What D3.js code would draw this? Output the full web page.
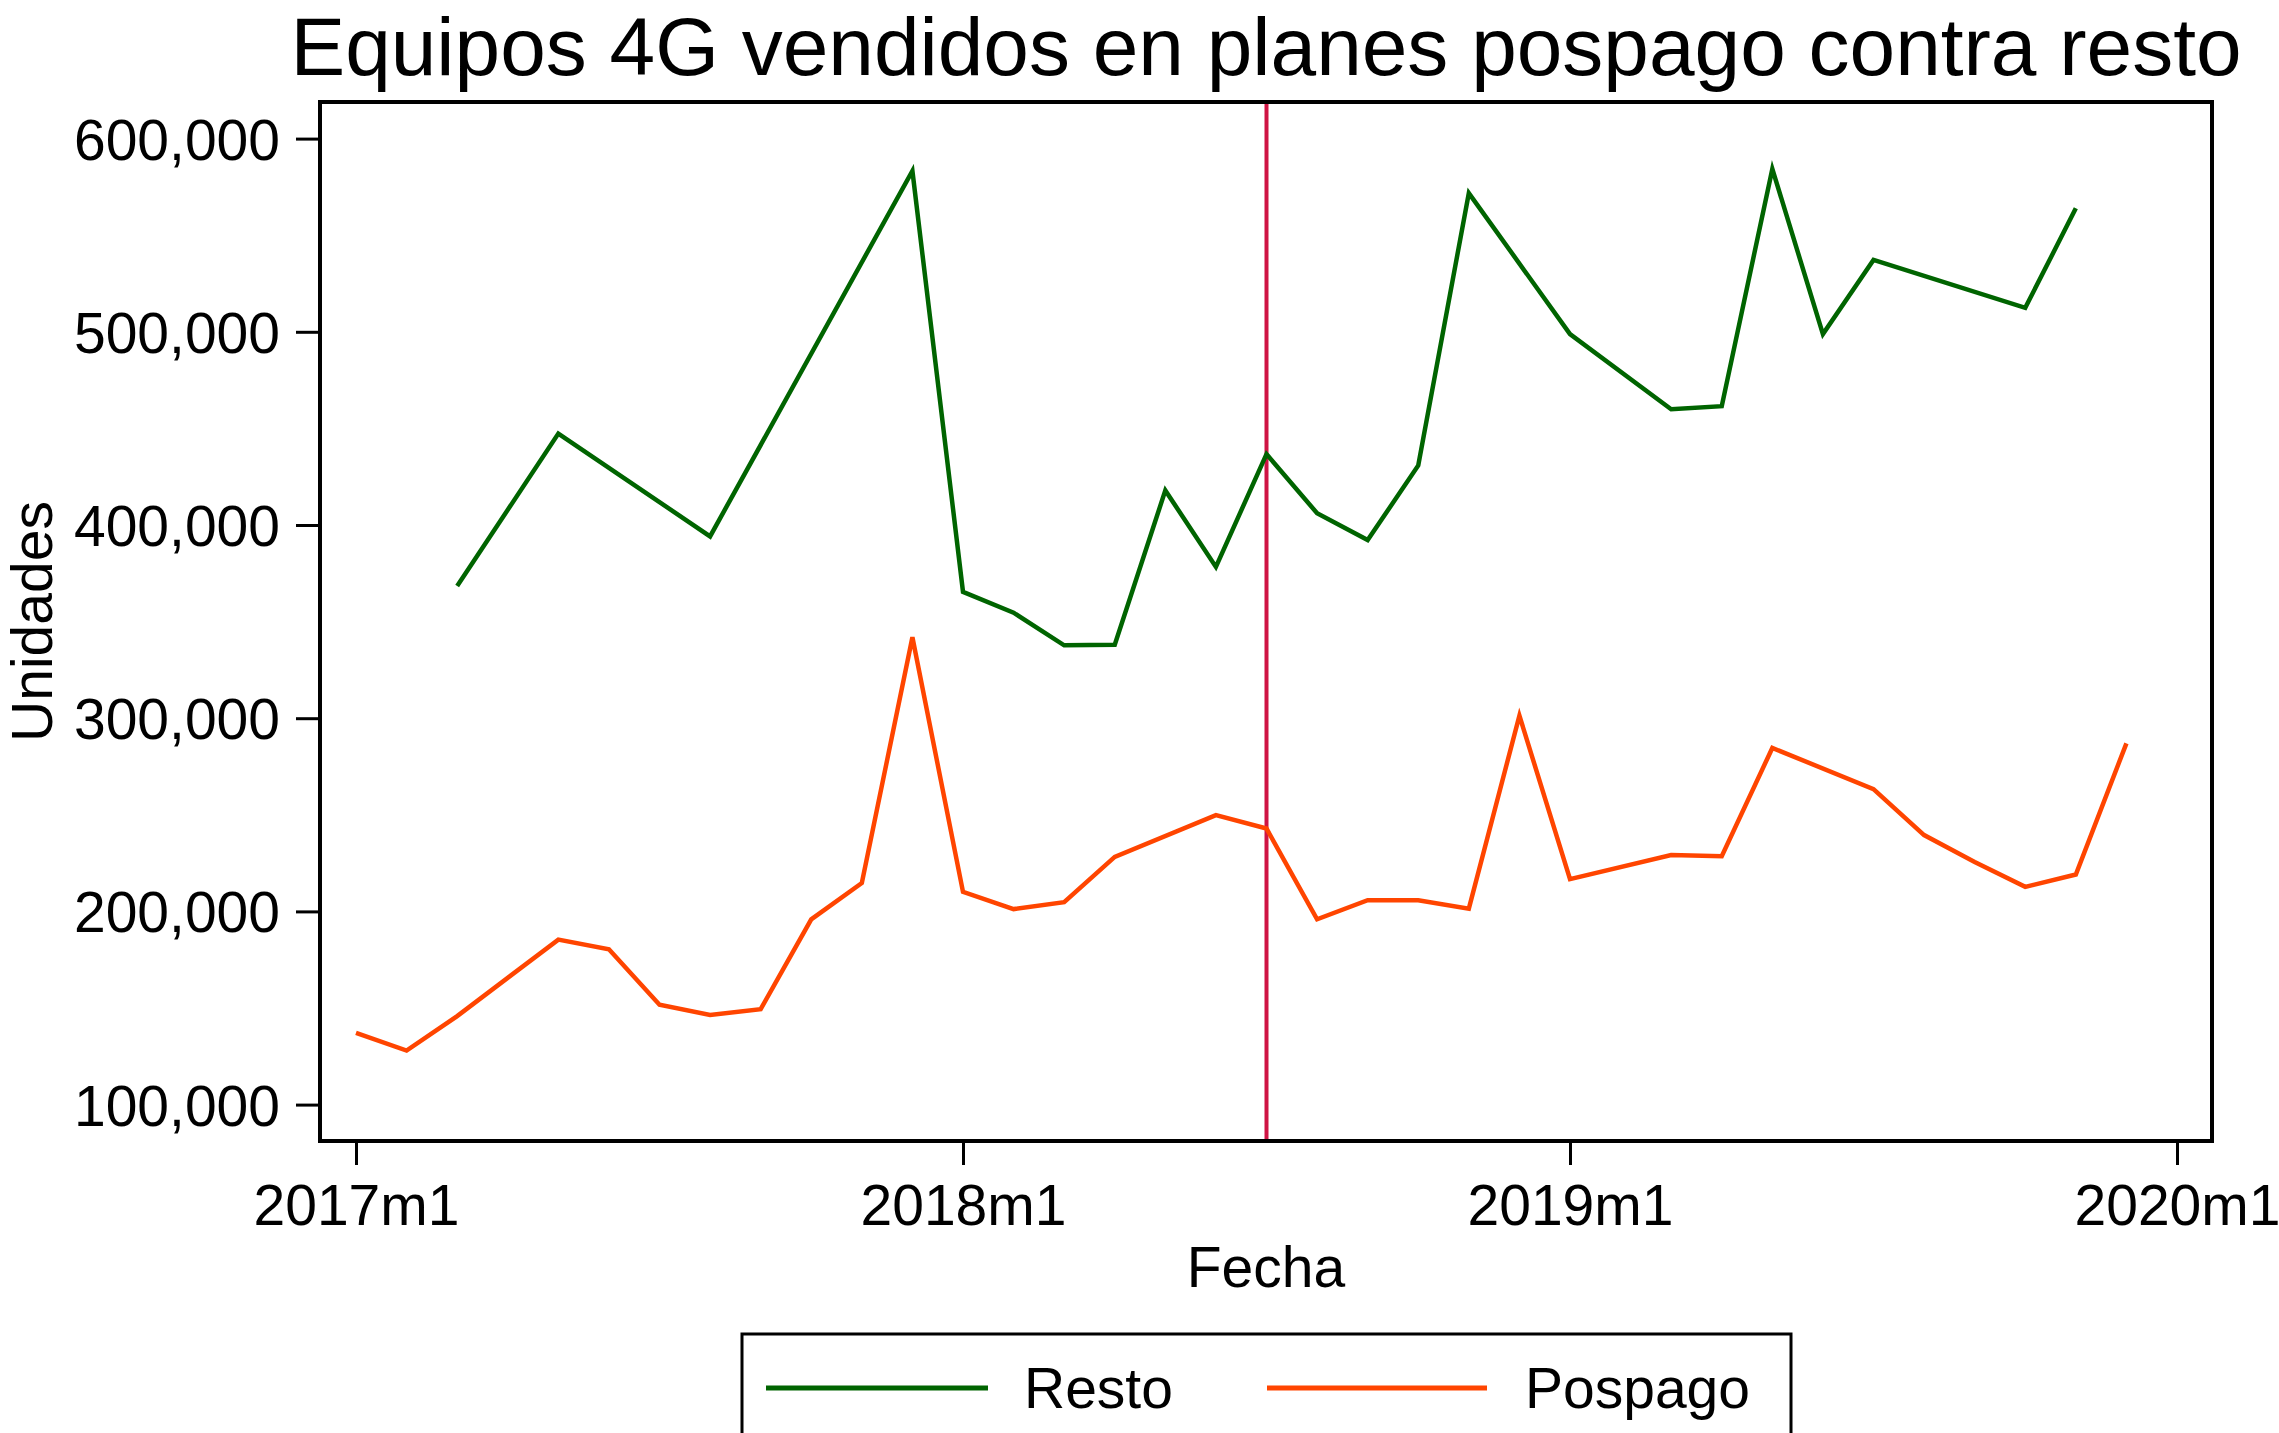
<!DOCTYPE html>
<html>
<head>
<meta charset="utf-8">
<script src="https://cdn.jsdelivr.net/npm/d3@7"></script>
<style>
  body { margin: 0; background: #fff; }
  text { font-family: "Liberation Sans", Arial, sans-serif; fill: #000; }
</style>
</head>
<body>
<svg id="chart" width="2279" height="1433"></svg>
<script>
// months counted from 2017m1 (= 0)
const tickMonths = [0, 12, 24, 36];
const tickLabels = ['2017m1', '2018m1', '2019m1', '2020m1'];
const yTicks = [100000, 200000, 300000, 400000, 500000, 600000];

const restoMonth = [2, 4, 7, 11, 12, 13, 14, 15, 16, 17, 18, 19, 20, 21, 22, 24, 26, 27, 28, 29, 30, 33, 34];
const restoValue = [368400, 447300, 394100, 583300, 365400, 354600, 337700, 338000, 417900, 378300, 436700,
  406100, 392200, 430800, 571800, 498800, 459900, 461500, 584300, 498800, 537200, 512400, 563900];

const pospagoMonth = [0, 1, 2, 4, 5, 6, 7, 8, 9, 10, 11, 12, 13, 14, 15, 17, 18, 19, 20, 21, 22, 23, 24,
  26, 27, 28, 30, 31, 32, 33, 34, 35];
const pospagoValue = [137100, 127950, 145800, 185400, 180400, 151700, 146400, 149400, 195900, 214700, 341900,
  210100, 201200, 204800, 228200, 249800, 242900, 195900, 205800, 205800, 201400, 301300, 216700,
  229200, 228600, 284600, 263300, 239500, 225600, 212700, 219100, 287000];

const markerMonth = 18; // 2018m7

const series = [
  { name: 'Resto', color: '#006400', months: restoMonth, values: restoValue },
  { name: 'Pospago', color: '#ff4500', months: pospagoMonth, values: pospagoValue }
];

const svg = d3.select('#chart');
const frame = { left: 320, right: 2212, top: 102, bottom: 1141 };

const x = d3.scaleLinear().domain([0, 36]).range([356, 2177]);
const y = d3.scaleLinear().domain([100000, 600000]).range([1104.6, 138.6]);

// title
svg.append('text')
  .attr('x', 1266).attr('y', 75)
  .attr('text-anchor', 'middle')
  .style('font-size', '82px')
  .text('Equipos 4G vendidos en planes pospago contra resto');

// y axis
const yAxis = d3.axisLeft(y)
  .tickValues(yTicks)
  .tickSize(24)
  .tickPadding(16)
  .tickFormat(d3.format(','));
const gy = svg.append('g').attr('transform', `translate(${frame.left},0)`).call(yAxis);
gy.select('.domain').remove();
gy.selectAll('.tick line').attr('stroke', '#000').attr('stroke-width', 3);
gy.selectAll('.tick text').style('font-size', '57px').attr('dy', '0.36em');

// x axis
const xAxis = d3.axisBottom(x)
  .tickValues(tickMonths)
  .tickSize(24)
  .tickPadding(20)
  .tickFormat((d, i) => tickLabels[i]);
const gx = svg.append('g').attr('transform', `translate(0,${frame.bottom})`).call(xAxis);
gx.select('.domain').remove();
gx.selectAll('.tick line').attr('stroke', '#000').attr('stroke-width', 3);
gx.selectAll('.tick text').style('font-size', '57px').attr('dy', '0.71em');

// axis titles
svg.append('text')
  .attr('transform', `translate(52,${(frame.top + frame.bottom) / 2}) rotate(-90)`)
  .attr('text-anchor', 'middle')
  .style('font-size', '57px')
  .text('Unidades');

svg.append('text')
  .attr('x', (frame.left + frame.right) / 2).attr('y', 1287)
  .attr('text-anchor', 'middle')
  .style('font-size', '57px')
  .text('Fecha');

// marker line
svg.append('line')
  .attr('x1', x(markerMonth)).attr('x2', x(markerMonth))
  .attr('y1', frame.top).attr('y2', frame.bottom)
  .attr('stroke', '#cf1444')
  .attr('stroke-width', 4);

// data lines
const line = d3.line()
  .x(d => x(d[0]))
  .y(d => y(d[1]));

series.forEach(s => {
  const pts = s.months.map((m, i) => [m, s.values[i]]);
  svg.append('path')
    .datum(pts)
    .attr('fill', 'none')
    .attr('stroke', s.color)
    .attr('stroke-width', 4.5)
    .attr('stroke-linejoin', 'miter')
    .attr('d', line);
});

// plot frame
svg.append('rect')
  .attr('x', frame.left).attr('y', frame.top)
  .attr('width', frame.right - frame.left)
  .attr('height', frame.bottom - frame.top)
  .attr('fill', 'none')
  .attr('stroke', '#000')
  .attr('stroke-width', 4);

// legend
const legend = svg.append('g');
legend.append('rect')
  .attr('x', 742).attr('y', 1334)
  .attr('width', 1049).attr('height', 140)
  .attr('fill', 'none')
  .attr('stroke', '#000')
  .attr('stroke-width', 3);

const legendPos = [
  { x1: 766, x2: 988, tx: 1024 },
  { x1: 1267, x2: 1487, tx: 1525 }
];
series.forEach((s, i) => {
  const p = legendPos[i];
  legend.append('line')
    .attr('x1', p.x1).attr('x2', p.x2)
    .attr('y1', 1388).attr('y2', 1388)
    .attr('stroke', s.color)
    .attr('stroke-width', 5);
  legend.append('text')
    .attr('x', p.tx).attr('y', 1408)
    .style('font-size', '57px')
    .text(s.name);
});
</script>
</body>
</html>
